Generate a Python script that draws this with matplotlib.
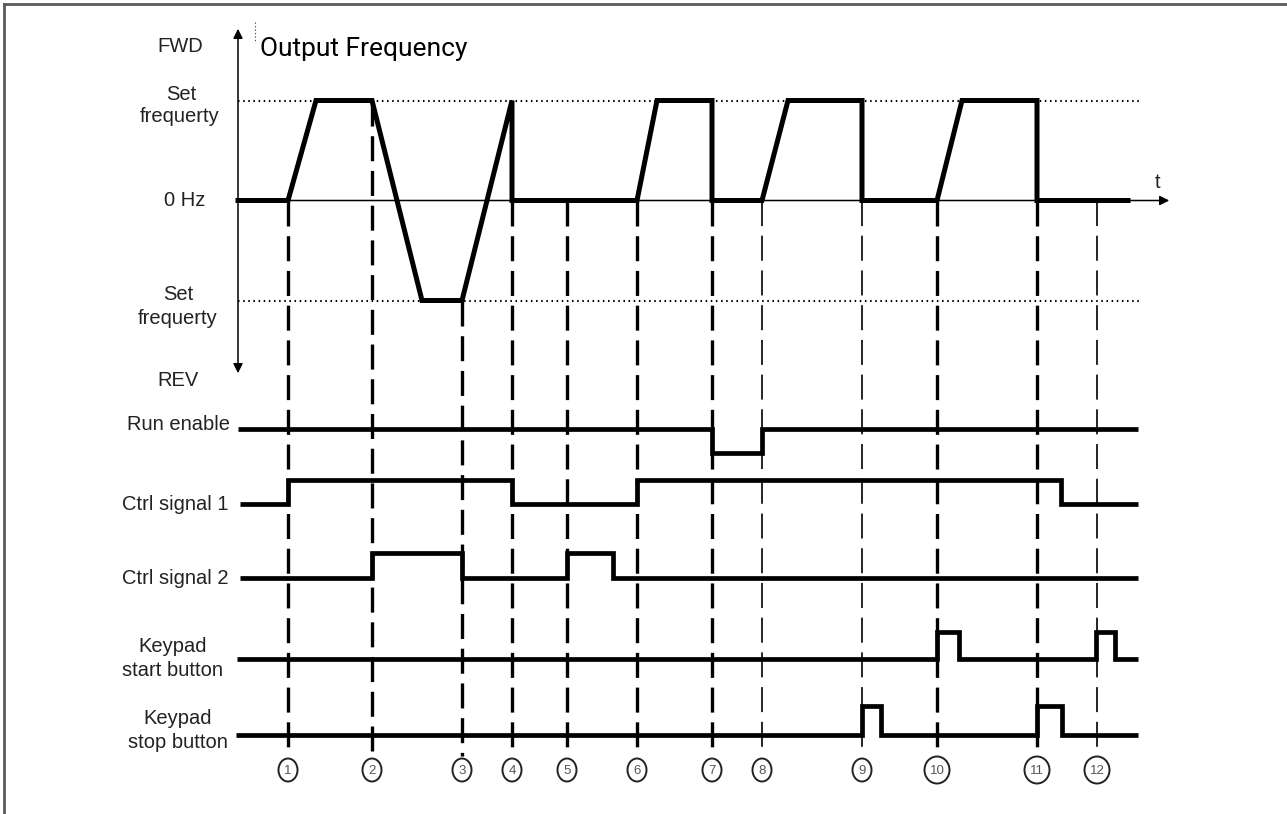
import numpy as np
import matplotlib.pyplot as plt
from matplotlib.patches import Ellipse

plt.rcParams['lines.scale_dashes'] = False

# event instants (numbered circles under the diagram)
event_t = [288, 372, 462, 512, 567, 637, 712, 762, 862, 937, 1037, 1097]
event_labels = ['1', '2', '3', '4', '5', '6', '7', '8', '9', '10', '11', '12']
event_bold = [True, True, True, True, True, True, True, False, False, True, True, False]

# output frequency profile: +1 = set freq FWD, 0 = 0 Hz, -1 = set freq REV
freq_t = [238, 288, 316, 372, 422, 462, 512, 512, 637, 657, 712, 712,
          762, 788, 862, 862, 937, 962, 1037, 1037, 1128]
freq_level = [0, 0, 1, 1, -1, -1, 1, 0, 0, 1, 1, 0,
              0, 1, 1, 0, 0, 1, 1, 0, 0]

# digital signals: step times and state after each step
run_enable_t = [238, 712, 762, 1138]
run_enable_s = [1, 0, 1, 1]
ctrl1_t = [240, 288, 512, 637, 1061, 1138]
ctrl1_s = [0, 1, 0, 1, 0, 0]
ctrl2_t = [240, 372, 462, 567, 613, 1138]
ctrl2_s = [0, 1, 0, 1, 0, 0]
start_t = [237, 937, 959, 1096, 1115, 1138]
start_s = [0, 1, 0, 1, 0, 0]
stop_t = [236, 862, 881, 1037, 1062, 1138]
stop_s = [0, 1, 0, 1, 0, 0]

fig = plt.figure(figsize=(12.87, 8.14), dpi=100)
ax = fig.add_axes([0, 0, 1, 1])
ax.set_xlim(0, 1287)
ax.set_ylim(814, 0)
ax.axis('off')

# frame (top and left only)
ax.plot([4, 1287], [4, 4], color='#5a5a5a', lw=2)
ax.plot([4, 4], [4, 814], color='#5a5a5a', lw=2)

# frequency axes
y_zero, amp = 200.5, 100
ax.annotate('', xy=(238, 26), xytext=(238, 200.5),
            arrowprops=dict(arrowstyle='-|>', color='black', lw=1.1, mutation_scale=14))
ax.annotate('', xy=(238, 376), xytext=(238, 200.5),
            arrowprops=dict(arrowstyle='-|>', color='black', lw=1.1, mutation_scale=14))
ax.annotate('', xy=(1172, y_zero), xytext=(238, y_zero),
            arrowprops=dict(arrowstyle='-|>', color='black', lw=1.1, mutation_scale=14))
ax.plot([238, 1140], [y_zero - amp] * 2, color='black', lw=1.5, ls=(0, (1.1, 2.6)))
ax.plot([238, 1140], [y_zero + amp] * 2, color='black', lw=1.5, ls=(0, (1.1, 2.6)))
ax.plot([255, 255], [22, 43], color='#555555', lw=0.8, ls=(0, (1, 1.5)))

# event dashed lines
for t, b in zip(event_t, event_bold):
    idx = max(i for i, ft in enumerate(freq_t) if ft <= t)
    top = y_zero - amp * freq_level[idx]
    ax.plot([t, t], [top, 756], color='black', lw=2.4 if b else 1.2,
            ls=(0, (18, 7)), zorder=2)

# frequency curve
ax.plot(freq_t, y_zero - amp * np.array(freq_level), color='black', lw=3.6,
        solid_joinstyle='miter', zorder=4)

# digital signals
rows = [
    (run_enable_t, run_enable_s, 453, 429),
    (ctrl1_t, ctrl1_s, 504, 480),
    (ctrl2_t, ctrl2_s, 578, 553),
    (start_t, start_s, 659, 632),
    (stop_t, stop_s, 735, 706),
]
for t, s, low, high in rows:
    y = [high if v else low for v in s]
    ax.step(t, y, where='post', color='black', lw=3.4, zorder=4,
            solid_joinstyle='miter', solid_capstyle='butt')

# event circles
for t, lab in zip(event_t, event_labels):
    w = 19 if len(lab) == 1 else 25
    h = 23 if len(lab) == 1 else 27
    ax.add_patch(Ellipse((t, 770), w, h, fill=False, ec='#222222', lw=1.4))
    ax.text(t, 771, lab, ha='center', va='center', fontsize=9.5,
            color='#555555', family='Liberation Sans')

# labels
lab_kw = dict(family='Liberation Sans', fontsize=14.5, color='#222222')
ax.text(180, 47, 'FWD', ha='center', va='center', **lab_kw)
ax.text(181, 94, 'Set', ha='center', va='center', **lab_kw)
ax.text(180, 117, 'frequerty', ha='center', va='center', **lab_kw)
ax.text(185, 200, '0 Hz', ha='center', va='center', **lab_kw)
ax.text(178, 295, 'Set', ha='center', va='center', **lab_kw)
ax.text(178, 318, 'frequerty', ha='center', va='center', **lab_kw)
ax.text(178, 380, 'REV', ha='center', va='center', **lab_kw)
ax.text(230, 425, 'Run enable', ha='right', va='center', **lab_kw)
ax.text(228, 504, 'Ctrl signal 1', ha='right', va='center', **lab_kw)
ax.text(228, 578, 'Ctrl signal 2', ha='right', va='center', **lab_kw)
ax.text(173, 647, 'Keypad', ha='center', va='center', **lab_kw)
ax.text(172, 671, 'start button', ha='center', va='center', **lab_kw)
ax.text(178, 718, 'Keypad', ha='center', va='center', **lab_kw)
ax.text(178, 742, 'stop button', ha='center', va='center', **lab_kw)
ax.text(1158, 182, 't', ha='center', va='center', **lab_kw)
ax.text(260, 49, 'Output Frequency', ha='left', va='center',
        family='Roboto', fontsize=19, color='black')

fig.savefig('out.png', dpi=100)
